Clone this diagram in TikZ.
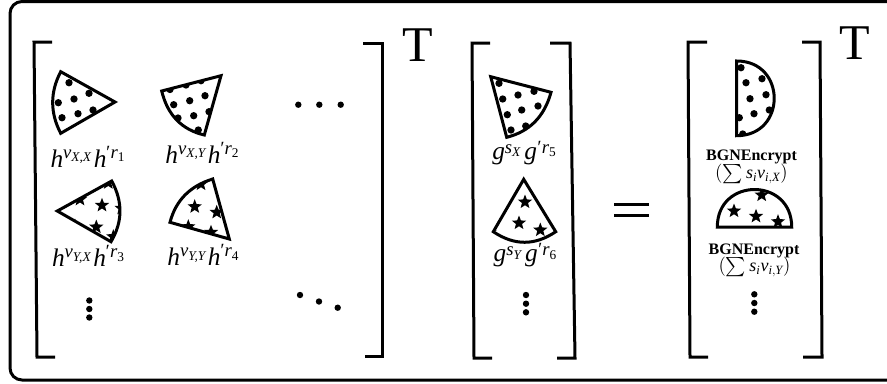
\documentclass[tikz,border=0pt]{standalone}
\usepackage{amsmath}
\usepackage{fontspec}
\setmainfont{Liberation Serif}
\tikzset{
  blobline/.style={draw=black,line width=2.25pt,line join=miter},
  bracketline/.style={draw=black,line width=2.25pt,line join=miter},
  framebox/.style={draw=black,line width=2.25pt,rounded corners=9pt},
  mlabel/.style={anchor=base,inner sep=0pt,font=\fontsize{19}{20}\selectfont\itshape},
  sublabel/.style={anchor=base,inner sep=0pt,font=\fontsize{13.5}{14}\selectfont},
  boldlabel/.style={anchor=base,inner sep=0pt,font=\fontsize{12}{13}\selectfont\bfseries},
  bigT/.style={anchor=base,inner sep=0pt,font=\fontsize{37.5}{40}\selectfont},
}
\newcommand\iv[1]{\text{\itshape #1}}
\newcommand\DotsAt[1]{\foreach \px/\py in {#1}{\fill[black] (\px,\py) circle (2.75pt);}}
\newcommand\SmallDots[1]{\foreach \px/\py in {#1}{\fill[black] (\px,\py) circle (2.4pt);}}
\newcommand\StarsAt[1]{\foreach \px/\py in {#1}{\fill[black,shift={(\px,\py)}]
  (-90:7.5) -- (-54:3.2) -- (-18:7.5) -- (18:3.2) -- (54:7.5) -- (90:3.2) -- (126:7.5) -- (162:3.2) -- (198:7.5) -- (234:3.2) -- cycle;}}
\newcommand\Blob[2]{\begin{scope}\clip #1;#2\end{scope}\draw[blobline] #1;}
% manual superscript: raise, base letter, index
\newcommand\upper[3]{\raisebox{#1}{\fontsize{14}{14}\selectfont #2\raisebox{-2.5pt}{\fontsize{10}{10}\selectfont #3}}}
\newcommand\hlab[3]{h\upper{6.75pt}{v}{#1,#2}\kern2pt h\upper{6.75pt}{\kern-1pt′\kern1pt r}{\upshape #3}}
\newcommand\glab[2]{g\upper{4.5pt}{s}{#1}\kern3pt g\upper{4.5pt}{\kern-0.5pt′\kern1pt r}{\upshape #2}}
\newcommand\slab[1]{\smash{$(\sum \iv{s}_{\iv{i}}\iv{v}_{\iv{i},\iv{#1}})$}}
\begin{document}
\begin{tikzpicture}[x=0.75pt,y=-0.75pt]
\useasboundingbox (0,0) rectangle (887,383);
\clip (0,0) rectangle (887,383);
\draw[framebox] (10,1.5) rectangle (900,380);

% brackets
\draw[bracketline] (52,42) -- (34,42) -- (37,357) -- (55,357);
\draw[bracketline] (363,43.5) -- (382.5,43.5) -- (382.5,356) -- (365,356);
\draw[bracketline] (490,43) -- (472,43) -- (474,358) -- (492,358);
\draw[bracketline] (550,43) -- (570,43) -- (575,358) -- (557,358);
\draw[bracketline] (707,42) -- (688,42) -- (690,357) -- (708,357);
\draw[bracketline] (802,42) -- (820,42) -- (822,357) -- (803,357);

% T
\node[bigT] (t1) at (417.7,61) {T};
\node[bigT] (t2) at (855,59) {T};

% equals
\draw[line width=2.25pt] (614,204.3) -- (648.7,204.3);
\draw[line width=2.25pt] (614,215.3) -- (648.7,215.3);

% dotted wedges
\Blob{(115,102) -- (60.7,71.7) .. controls (50,92.2) and (50,112.8) .. (60.7,133.3) -- cycle}{
  \DotsAt{69/82.7, 89/93.3, 58.3/102.7, 74/99, 93/110, 78/113.7, 62/117.7}}
\Blob{(161.7,91) -- (221,75.7) -- (204.3,135) .. controls (181.7,129.7) and (167.5,115) .. (161.7,91) -- cycle}{
  \DotsAt{173.7/104.7, 189.7/100.7, 205/95.7, 193.7/115.7, 209/111.7, 170/89.5, 186/85, 201/80.7, 178/118, 198.3/130}}
\Blob{(490.7,76.7) -- (551,92.3) .. controls (544.4,116.5) and (529.7,131.5) .. (506.7,137.3) -- cycle}{
  \DotsAt{499/83.3, 502.7/99, 518/95, 534/91.3, 538/106, 521.7/110, 507.3/114.7, 511/130, 525.7/126}}
\Blob{(736.7,61) .. controls (786.7,61) and (786.7,135.7) .. (736.7,135.7) -- cycle}{
  \DotsAt{741/67.7, 746/82.7, 762/78.7, 766/94.7, 750/98.7, 754/113.7, 769.3/110, 739.3/117.7, 742.7/134}}

% star wedges
\Blob{(57.3,211) -- (111.7,181) .. controls (123,201.7) and (122.7,222) .. (111,241.7) -- cycle}{
  \StarsAt{102/205.3, 96.3/227, 80/199.3, 108.3/182.7, 75/226, 113.3/236.7, 121.7/208.3}}
\Blob{(170,222.3) .. controls (175.8,200.3) and (190,186) .. (212.7,179) -- (229.3,239) -- cycle}{
  \StarsAt{194.7/206.7, 216.7/212.3, 201/184, 188.3/226.7, 211/232.3}}
\Blob{(523.7,179.3) -- (555.7,231.7) .. controls (534.9,245.8) and (514.3,245.8) .. (493.3,231.7) -- cycle}{
  \StarsAt{525/202, 519/223, 540.3/230, 492/225}}
\Blob{(717.3,227) .. controls (717.3,177) and (791.7,177) .. (791.7,227) -- cycle}{
  \StarsAt{734/211, 756/216.3, 778/221.7, 761.7/195}}

% labels
\node[mlabel] (l1) at (87.5,167) {\hlab{X}{X}{1}};
\node[mlabel] (l2) at (202,163) {\hlab{X}{Y}{2}};
\node[mlabel] (l3) at (88,266.7) {\hlab{Y}{X}{3}};
\node[mlabel] (l4) at (203,265.7) {\hlab{Y}{Y}{4}};
\node[mlabel] (l5) at (524,159.3) {\glab{X}{5}};
\node[mlabel] (l6) at (525,261.7) {\glab{Y}{6}};
\node[boldlabel] (e1) at (751.5,160.7) {BGNEncrypt};
\node[sublabel] (e2) at (751.5,178.5) {\slab{X}};
\node[boldlabel] (e3) at (754,254) {BGNEncrypt};
\node[sublabel] (e4) at (754.5,271.5) {\slab{Y}};

% ellipses
\SmallDots{298.3/104.7, 319.3/104.7, 340.7/104.7, 300/295, 319/301.5, 337.7/307.7}
\SmallDots{89.3/300.5, 89.3/309, 89.3/317.5, 526/295, 526/303.7, 526/312.3, 754.3/294.3, 754.3/303, 754.3/311.7}
\end{tikzpicture}
\end{document}
